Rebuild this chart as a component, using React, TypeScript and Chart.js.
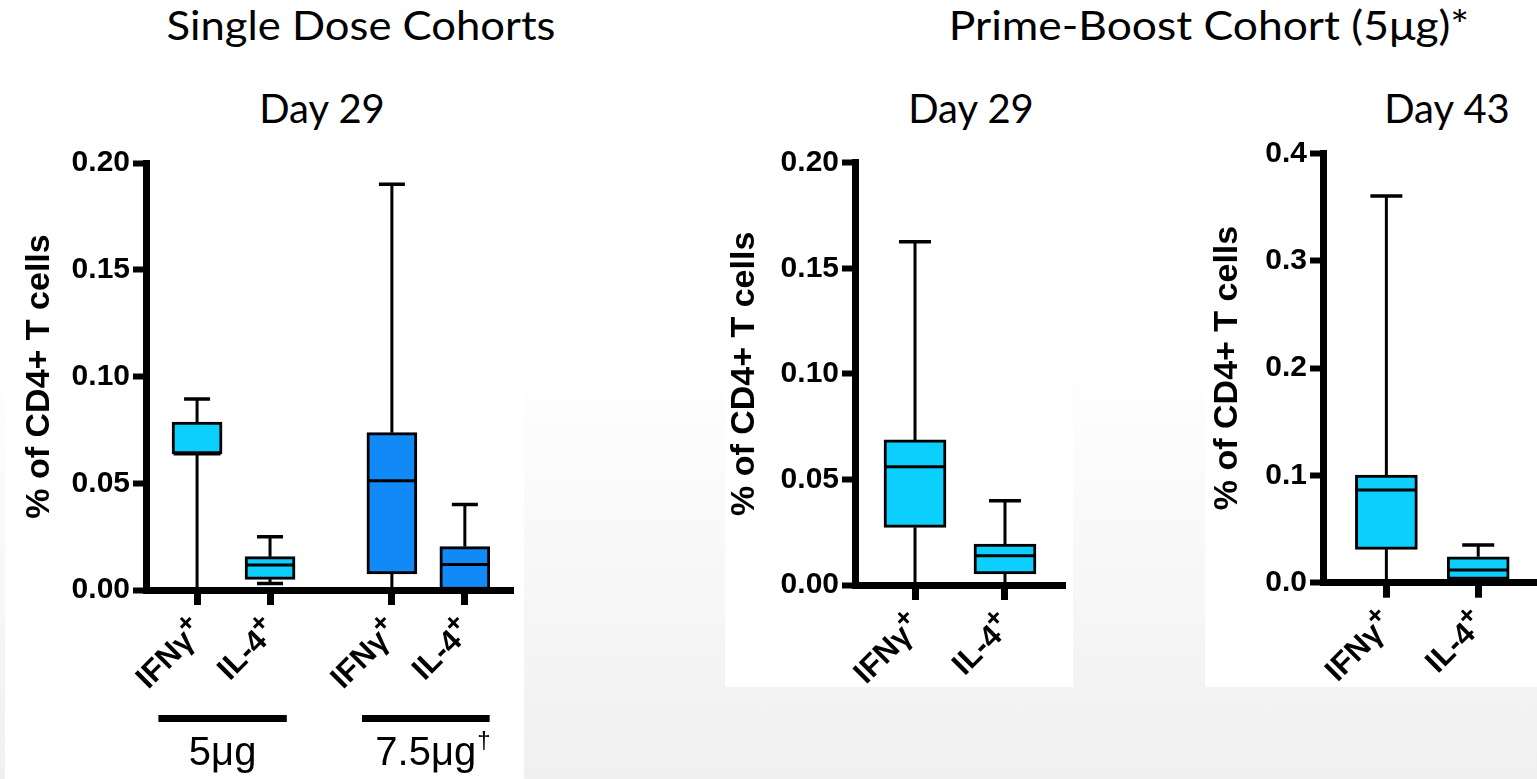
import React, { useEffect, useRef } from 'react';
import { Chart, registerables } from 'chart.js';

Chart.register(...registerables);

// ---------- Colours ----------
const CYAN = '#0BCFFC';
const BLUE = '#1189F6';

// ---------- Panel 1: Single Dose Cohorts, Day 29 ----------
const p1Labels = ['IFNγ', 'IL-4', 'IFNγ', 'IL-4'];
const p1Sup = ['+', '+', '+', '+'];
const p1Positions = [0, 1, 2.67, 3.67];
const p1Colors = [CYAN, CYAN, BLUE, BLUE];
const p1Min = [0, 0.003, 0, 0];
const p1Q1 = [0.0637, 0.005, 0.0075, 0];
const p1Median = [0.0637, 0.0117, 0.0512, 0.012];
const p1Q3 = [0.0787, 0.0156, 0.0737, 0.0203];
const p1Max = [0.0895, 0.025, 0.19, 0.04];
const p1YTicks = [0, 0.05, 0.1, 0.15, 0.2];
const p1Doses = ['5μg', '7.5μg'];
const p1DoseMarks = ['', '†'];
const p1DoseFrom = [-0.53, 2.26];
const p1DoseTo = [1.23, 4.01];

// ---------- Panel 2: Prime-Boost, Day 29 ----------
const p2Labels = ['IFNγ', 'IL-4'];
const p2Sup = ['+', '+'];
const p2Positions = [0, 1];
const p2Colors = [CYAN, CYAN];
const p2Min = [0, 0];
const p2Q1 = [0.0273, 0.0052];
const p2Median = [0.056, 0.0139];
const p2Q3 = [0.0687, 0.0194];
const p2Max = [0.1626, 0.0399];
const p2YTicks = [0, 0.05, 0.1, 0.15, 0.2];

// ---------- Panel 3: Prime-Boost, Day 43 ----------
const p3Labels = ['IFNγ', 'IL-4'];
const p3Sup = ['+', '+'];
const p3Positions = [0, 1];
const p3Colors = [CYAN, CYAN];
const p3Min = [0, 0];
const p3Q1 = [0.0311, 0.0031];
const p3Median = [0.0864, 0.0118];
const p3Q3 = [0.1003, 0.0242];
const p3Max = [0.3603, 0.0351];
const p3YTicks = [0, 0.1, 0.2, 0.3, 0.4];

const Y_TITLE = '% of CD4+ T cells';
const AXIS_FONT = '"Liberation Sans", Arial, sans-serif';
const HEAD_FONT = 'Lato, "Open Sans", sans-serif';

function makeBoxPlugin(spec: any) {
  return {
    id: 'boxWhiskers',
    afterDatasetsDraw(chart: any) {
      const { ctx, scales } = chart;
      const x = scales.x;
      const y = scales.y;
      ctx.save();
      ctx.strokeStyle = '#000';
      ctx.lineCap = 'butt';
      spec.positions.forEach((p: number, i: number) => {
        const cx = x.getPixelForValue(p);
        const yMin = y.getPixelForValue(spec.min[i]);
        const yQ1 = y.getPixelForValue(spec.q1[i]);
        const yMed = y.getPixelForValue(spec.median[i]);
        const yQ3 = y.getPixelForValue(spec.q3[i]);
        const yMax = y.getPixelForValue(spec.max[i]);
        ctx.lineWidth = 3;
        ctx.beginPath();
        ctx.moveTo(cx, yQ3);
        ctx.lineTo(cx, yMax);
        if (spec.min[i] < spec.q1[i]) {
          ctx.moveTo(cx, yQ1);
          ctx.lineTo(cx, yMin);
        }
        ctx.stroke();
        ctx.lineWidth = 3.5;
        ctx.beginPath();
        ctx.moveTo(cx - spec.capWidth / 2, yMax);
        ctx.lineTo(cx + spec.capWidth / 2, yMax);
        ctx.moveTo(cx - spec.capWidth / 2, yMin);
        ctx.lineTo(cx + spec.capWidth / 2, yMin);
        ctx.stroke();
        ctx.lineWidth = 3;
        ctx.beginPath();
        ctx.moveTo(cx - spec.boxWidth / 2 + 1.5, yMed);
        ctx.lineTo(cx + spec.boxWidth / 2 - 1.5, yMed);
        ctx.stroke();
      });
      ctx.restore();
    },
  };
}

// Category labels on the x axis: rotated 45°, with a superscript "+"
function makeXLabelPlugin(spec: any) {
  return {
    id: 'xLabels',
    afterDraw(chart: any) {
      const { ctx, chartArea, scales } = chart;
      const x = scales.x;
      ctx.save();
      ctx.fillStyle = '#000';
      spec.positions.forEach((p: number, i: number) => {
        const tx = x.getPixelForValue(p);
        ctx.save();
        ctx.translate(tx + 3, chartArea.bottom + 36);
        ctx.rotate(-Math.PI / 4);
        ctx.textBaseline = 'middle';
        ctx.textAlign = 'right';
        ctx.font = `bold 27px ${AXIS_FONT}`;
        const ws = ctx.measureText(spec.sups[i]).width;
        ctx.fillText(spec.sups[i], 0, -11);
        ctx.font = `bold 31px ${AXIS_FONT}`;
        ctx.fillText(spec.labels[i], -ws + 1, 0);
        ctx.restore();
      });
      ctx.restore();
    },
  };
}

function makeDosePlugin(spec: any) {
  return {
    id: 'doseBrackets',
    afterDraw(chart: any) {
      if (!spec.doses) return;
      const { ctx, chartArea, scales } = chart;
      const x = scales.x;
      ctx.save();
      ctx.fillStyle = '#000';
      spec.doses.forEach((label: string, i: number) => {
        const x0 = x.getPixelForValue(spec.doseFrom[i]);
        const x1 = x.getPixelForValue(spec.doseTo[i]);
        const ly = chartArea.bottom + 128.5;
        ctx.fillRect(x0, ly - 3.5, x1 - x0, 7);
        const cx = (x0 + x1) / 2;
        const ty = chartArea.bottom + 175;
        ctx.font = `40px ${AXIS_FONT}`;
        ctx.textAlign = 'center';
        ctx.textBaseline = 'alphabetic';
        ctx.fillText(label, cx, ty);
        const mark = spec.doseMarks[i];
        if (mark) {
          const w = ctx.measureText(label).width;
          ctx.font = `24px ${AXIS_FONT}`;
          ctx.textAlign = 'left';
          ctx.fillText(mark, cx + w / 2 + 1, ty - 17);
        }
      });
      ctx.restore();
    },
  };
}

function makeConfig(spec: any) {
  const tickFont = { family: AXIS_FONT, size: 30, weight: 'bold' as const };
  return {
    type: 'bar' as const,
    data: {
      datasets: [
        {
          data: spec.positions.map((px: number, i: number) => ({ x: px, y: [spec.q1[i], spec.q3[i]] })),
          backgroundColor: spec.colors,
          borderColor: '#000',
          borderWidth: 3,
          borderSkipped: false,
          barThickness: spec.boxWidth,
        },
      ],
    },
    options: {
      responsive: false,
      animation: false,
      events: [],
      layout: { padding: spec.padding },
      plugins: { legend: { display: false }, tooltip: { enabled: false }, title: { display: false } },
      scales: {
        x: {
          type: 'linear',
          min: spec.xMin,
          max: spec.xMax,
          offset: false,
          afterBuildTicks: (s: any) => {
            s.ticks = spec.positions.map((v: number) => ({ value: v }));
          },
          afterFit: (s: any) => {
            s.height = spec.xAxisHeight;
          },
          ticks: {
            display: false,
            autoSkip: false,
            callback: (_v: any, i: number) => spec.labels[i] + spec.sups[i],
          },
          grid: {
            offset: false,
            drawOnChartArea: false,
            drawTicks: true,
            tickLength: 15,
            tickWidth: 7,
            tickColor: '#000',
          },
          border: { display: true, color: '#000', width: 7 },
        },
        y: {
          type: 'linear',
          min: 0,
          max: spec.yTicks[spec.yTicks.length - 1],
          afterBuildTicks: (s: any) => {
            s.ticks = spec.yTicks.map((v: number) => ({ value: v }));
          },
          afterFit: (s: any) => {
            s.width = spec.yAxisWidth;
          },
          ticks: {
            padding: 3,
            color: '#000',
            font: { ...tickFont, lineHeight: 0.8 },
            callback: (v: any) => Number(v).toFixed(spec.decimals),
          },
          grid: {
            drawOnChartArea: false,
            drawTicks: true,
            tickLength: 13,
            tickWidth: 6,
            tickColor: '#000',
          },
          border: { display: true, color: '#000', width: 7 },
          title: {
            display: true,
            text: Y_TITLE,
            color: '#000',
            font: { family: AXIS_FONT, size: 34, weight: 'bold', lineHeight: 1.2 },
            padding: { top: spec.titlePad, bottom: 0 },
          },
        },
      },
    },
    plugins: [makeBoxPlugin(spec), makeXLabelPlugin(spec), makeDosePlugin(spec)],
  };
}

const panel1 = {
  labels: p1Labels, sups: p1Sup, positions: p1Positions, colors: p1Colors,
  min: p1Min, q1: p1Q1, median: p1Median, q3: p1Q3, max: p1Max, yTicks: p1YTicks,
  doses: p1Doses, doseMarks: p1DoseMarks, doseFrom: p1DoseFrom, doseTo: p1DoseTo,
  decimals: 2, xMin: -0.7, xMax: 4.33, boxWidth: 50, capWidth: 26,
  padding: { left: 0, top: 43, right: 17, bottom: 0 }, yAxisWidth: 146, xAxisHeight: 189, titlePad: 19,
};

const panel2 = {
  labels: p2Labels, sups: p2Sup, positions: p2Positions, colors: p2Colors,
  min: p2Min, q1: p2Q1, median: p2Median, q3: p2Q3, max: p2Max, yTicks: p2YTicks,
  decimals: 2, xMin: -0.667, xMax: 1.667, boxWidth: 62, capWidth: 32,
  padding: { left: 0, top: 42.7, right: 15, bottom: 0 }, yAxisWidth: 155, xAxisHeight: 115, titlePad: 24,
};

const panel3 = {
  labels: p3Labels, sups: p3Sup, positions: p3Positions, colors: p3Colors,
  min: p3Min, q1: p3Q1, median: p3Median, q3: p3Q3, max: p3Max, yTicks: p3YTicks,
  decimals: 1, xMin: -0.69, xMax: 1.64, boxWidth: 62, capWidth: 32,
  padding: { left: 0, top: 33.3, right: 0, bottom: 0 }, yAxisWidth: 143, xAxisHeight: 117.3, titlePad: 27,
};

function Panel({ spec, left, top, width, height }: any) {
  const ref = useRef<HTMLCanvasElement>(null);
  useEffect(() => {
    const chart = new Chart(ref.current as HTMLCanvasElement, makeConfig(spec) as any);
    return () => chart.destroy();
  }, [spec]);
  return (
    <div style={{ position: 'absolute', left, top, width, height }}>
      <canvas ref={ref} width={width} height={height} style={{ display: 'block', width, height }} />
    </div>
  );
}

const HEAD_SIZE = 40;
function Heading({ text, cx, baseline, stretch = 1 }: { text: string; cx: number; baseline: number; stretch?: number }) {
  return (
    <div
      style={{
        position: 'absolute',
        left: cx - 400,
        width: 800,
        top: baseline - HEAD_SIZE * 0.887,
        textAlign: 'center',
        fontFamily: HEAD_FONT,
        fontSize: HEAD_SIZE,
        lineHeight: `${HEAD_SIZE}px`,
        color: '#000',
        whiteSpace: 'nowrap',
        transform: `scaleX(${stretch})`,
        transformOrigin: 'center',
      }}
    >
      {text}
    </div>
  );
}

export default function App() {
  return (
    <div
      style={{
        position: 'absolute',
        left: 0,
        top: 0,
        width: 1537,
        height: 779,
        overflow: 'hidden',
        background: 'linear-gradient(to bottom, #ffffff 0%, #ffffff 45%, #f0f0f0 100%)',
      }}
    >
      <div style={{ position: 'absolute', left: 5, top: 120, width: 519, height: 659, background: '#fff' }} />
      <div style={{ position: 'absolute', left: 725, top: 120, width: 348, height: 567, background: '#fff' }} />
      <div style={{ position: 'absolute', left: 1205, top: 120, width: 332, height: 567, background: '#fff' }} />
      <Heading text="Single Dose Cohorts" cx={361} baseline={40} stretch={1.09} />
      <Heading text="Prime-Boost Cohort (5μg)*" cx={1209} baseline={40} stretch={1.11} />
      <Heading text="Day 29" cx={322} baseline={123} />
      <Heading text="Day 29" cx={971} baseline={123} />
      <Heading text="Day 43" cx={1447} baseline={123} />
      <Panel spec={panel1} left={0} top={120} width={530} height={659} />
      <Panel spec={panel2} left={700} top={120} width={380} height={580} />
      <Panel spec={panel3} left={1180} top={120} width={357} height={580} />
    </div>
  );
}
